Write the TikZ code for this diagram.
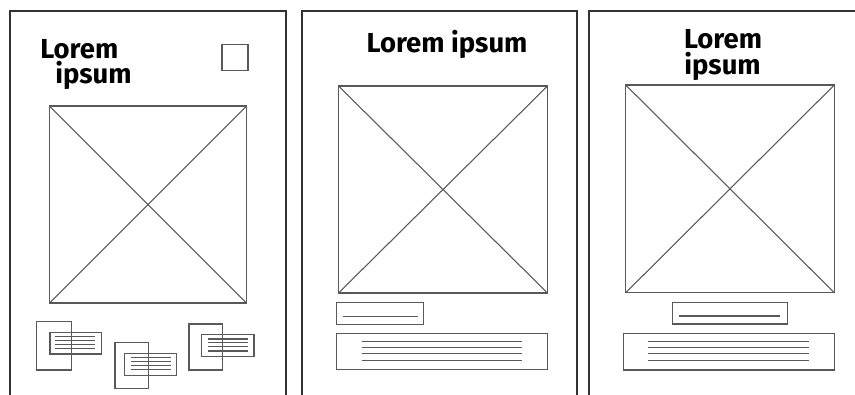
\documentclass[tikz,border=0pt]{standalone}
\usepackage{fontspec}
\setmainfont{Fira Sans}
\begin{document}
\begin{tikzpicture}[x=0.75pt,y=-0.75pt,
  panel/.style={draw=black!80,line width=1.5pt},
  box/.style={draw=black!65,line width=0.8pt,inner sep=0pt,outer sep=0pt},
  txtline/.style={draw=black!65,line width=0.9pt},
  title/.style={font=\fontsize{20.6pt}{22pt}\selectfont\bfseries,inner sep=0pt,anchor=base},
  upper/.style={text depth=0pt},
  lower/.style={text height=0.6em}]
\useasboundingbox (0,0) rectangle (855,394);
\fill[white] (0,0) rectangle (855,394);
% panels
\coordinate (p1bl) at (10,396); \coordinate (p1tl) at (10,11);
\coordinate (p1tr) at (285.5,11); \coordinate (p1br) at (285.5,396);
\draw[panel] (p1bl) -- (p1tl) -- (p1tr) -- (p1br);
\coordinate (p2bl) at (301.5,396); \coordinate (p2tl) at (301.5,11);
\coordinate (p2tr) at (577,11); \coordinate (p2br) at (577,396);
\draw[panel] (p2bl) -- (p2tl) -- (p2tr) -- (p2br);
\coordinate (p3bl) at (588.5,396); \coordinate (p3tl) at (588.5,11);
\coordinate (p3tr) at (857,11);
\draw[panel] (p3bl) -- (p3tl) -- (p3tr);
% panel 1
\node[title,upper,anchor=base west] (t1a) at (40,58) {Lorem};
\node[title,lower,anchor=base west] (t1b) at (55,83) {ipsum};
\node[box,minimum width=26*0.75pt,minimum height=26*0.75pt,anchor=north west] (sq) at (222,44.5) {};
\node[box,anchor=north west,minimum width=197*0.75pt,minimum height=197*0.75pt] (img1) at (49.5,106) {};
\draw[box] (img1.north west) -- (img1.south east) (img1.north east) -- (img1.south west);
% group 1
\node[box,anchor=north west,minimum width=35*0.75pt,minimum height=48.3*0.75pt] (g1t) at (36.7,321.7) {};
\node[box,anchor=north west,minimum width=51.7*0.75pt,minimum height=21.7*0.75pt] (g1w) at (50,332.3) {};
\foreach \y [count=\i] in {336.7,340.7,344.3,348.3}
  {\coordinate (g1a\i) at (55,\y); \coordinate (g1b\i) at (95,\y); \draw[txtline] (g1a\i) -- (g1b\i);}
% group 2
\node[box,anchor=north west,minimum width=33.3*0.75pt,minimum height=46*0.75pt] (g2t) at (115,342.3) {};
\node[box,anchor=north west,minimum width=52.4*0.75pt,minimum height=22.4*0.75pt] (g2w) at (124.3,353.3) {};
\foreach \y [count=\i] in {357.7,361.3,365.2,369.3}
  {\coordinate (g2a\i) at (130.7,\y); \coordinate (g2b\i) at (170.7,\y); \draw[txtline] (g2a\i) -- (g2b\i);}
% group 3
\node[box,anchor=north west,minimum width=33.3*0.75pt,minimum height=46*0.75pt] (g3t) at (189,324) {};
\node[box,anchor=north west,minimum width=52.3*0.75pt,minimum height=22.4*0.75pt] (g3w) at (201.7,334.3) {};
\foreach \y [count=\i] in {339,342.8,346.8,351}
  {\coordinate (g3a\i) at (208.3,\y); \coordinate (g3b\i) at (248.3,\y); \draw[txtline] (g3a\i) -- (g3b\i);}
% panel 2
\node[title] (t2) at (447,52.3) {Lorem ipsum};
\node[box,anchor=north west,minimum width=209*0.75pt,minimum height=207*0.75pt] (img2) at (338.5,86) {};
\draw[box] (img2.north west) -- (img2.south east) (img2.north east) -- (img2.south west);
\node[box,anchor=north west,minimum width=86.6*0.75pt,minimum height=21.6*0.75pt] (s2) at (336.7,302.7) {};
\coordinate (s2a) at (342.7,316.7); \coordinate (s2b) at (418.3,316.7);
\draw[txtline] (s2a) -- (s2b);
\node[box,anchor=north west,minimum width=211*0.75pt,minimum height=36*0.75pt] (b2) at (336.7,333.3) {};
\foreach \y [count=\i] in {341.7,347.7,353.7,360.3}
  {\coordinate (b2a\i) at (361.7,\y); \coordinate (b2b\i) at (522.3,\y); \draw[txtline] (b2a\i) -- (b2b\i);}
% panel 3
\node[title,upper] (t3a) at (723,48) {Lorem};
\node[title,lower] (t3b) at (722.5,74) {ipsum};
\node[box,anchor=north west,minimum width=208.6*0.75pt,minimum height=207.7*0.75pt] (img3) at (625.7,85) {};
\draw[box] (img3.north west) -- (img3.south east) (img3.north east) -- (img3.south west);
\node[box,anchor=north west,minimum width=115*0.75pt,minimum height=21.3*0.75pt] (s3) at (672.3,302.7) {};
\coordinate (s3a) at (679.3,316); \coordinate (s3b) at (780,316);
\draw[txtline] (s3a) -- (s3b);
\node[box,anchor=north west,minimum width=211*0.75pt,minimum height=36.7*0.75pt] (b3) at (623.3,333.3) {};
\foreach \y [count=\i] in {341.3,347.7,353.7,360.3}
  {\coordinate (b3a\i) at (648.3,\y); \coordinate (b3b\i) at (809,\y); \draw[txtline] (b3a\i) -- (b3b\i);}
\end{tikzpicture}
\end{document}
